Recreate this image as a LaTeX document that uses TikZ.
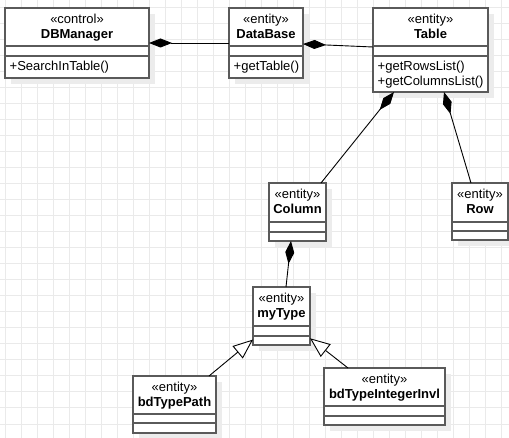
\documentclass[tikz,border=0pt]{standalone}
\usepackage{fontspec}
\setmainfont{Liberation Sans}
\usetikzlibrary{arrows.meta,shadows}
\definecolor{gridc}{RGB}{234,234,234}
\definecolor{shadc}{RGB}{236,236,236}
\definecolor{boxc}{RGB}{90,90,90}
\begin{document}
\begin{tikzpicture}[x=1pt,y=-1pt,
 gridline/.style={draw=gridc, line width=1pt},
 umlbox/.style={draw=boxc, line width=2pt, fill=white, inner sep=0pt, outer sep=0pt, anchor=north west,
   drop shadow={shadow xshift=6pt, shadow yshift=-6pt, fill=shadc, draw=none, opacity=1}},
 sepline/.style={draw=boxc, line width=2pt},
 stereo/.style={anchor=base, inner sep=0pt, font=\fontsize{13}{15}\selectfont},
 cname/.style={anchor=base, inner sep=0pt, font=\fontsize{13}{15}\selectfont\bfseries},
 meth/.style={anchor=base west, inner sep=0pt, font=\fontsize{13}{15}\selectfont},
 comp/.style={draw=black, line width=0.9pt, {Diamond[length=23pt,width=9pt]}-},
 gen/.style={draw=black, line width=0.9pt, -{Triangle[open,length=20pt,width=16pt,fill=white]}}]
\useasboundingbox (0,0) rectangle (509,438);
\fill[white] (0,0) rectangle (509,438);
\foreach \x in {5,21,...,501} \draw[gridline] (\x,0) -- (\x,438);
\foreach \y in {8,24,...,436} \draw[gridline] (0,\y) -- (509,\y);

% boxes
\node[umlbox, minimum width=144pt, minimum height=70pt] (dbm) at (5,8) {};
\node[umlbox, minimum width=74pt, minimum height=70pt] (db) at (229,8) {};
\node[umlbox, minimum width=115pt, minimum height=84pt] (tbl) at (373,8) {};
\node[umlbox, minimum width=57pt, minimum height=58pt] (col) at (269,183) {};
\node[umlbox, minimum width=56pt, minimum height=57pt] (row) at (452,183) {};
\node[umlbox, minimum width=57pt, minimum height=58pt] (myt) at (253,287) {};
\node[umlbox, minimum width=83pt, minimum height=57pt] (btp) at (133,376) {};
\node[umlbox, minimum width=121pt, minimum height=57pt] (bti) at (324,368) {};

% compartments
\foreach \n/\a/\b in {dbm/38/48, db/38/48, tbl/38/48, col/39/49, row/39/48, myt/39/49, btp/38/47, bti/38/48} {
  \draw[sepline] ([yshift=-\a pt]\n.north west) -- ([yshift=-\a pt]\n.north east);
  \draw[sepline] ([yshift=-\b pt]\n.north west) -- ([yshift=-\b pt]\n.north east);
}

% texts
\node[stereo] (dbm-s) at ([yshift=-15.5pt]dbm.north) {«control»};
\node[cname] (dbm-n) at ([yshift=-30.5pt]dbm.north) {DBManager};
\node[meth] (dbm-m) at ([xshift=4.5pt,yshift=-63pt]dbm.north west) {+SearchInTable()};

\node[stereo] (db-s) at ([yshift=-15.5pt]db.north) {«entity»};
\node[cname] (db-n) at ([yshift=-30.5pt]db.north) {DataBase};
\node[meth] (db-m) at ([xshift=4.5pt,yshift=-63pt]db.north west) {+getTable()};

\node[stereo] (tbl-s) at ([yshift=-15.5pt]tbl.north) {«entity»};
\node[cname] (tbl-n) at ([yshift=-30.5pt]tbl.north) {Table};
\node[meth] (tbl-m1) at ([xshift=4.5pt,yshift=-63pt]tbl.north west) {+getRowsList()};
\node[meth] (tbl-m2) at ([xshift=4.5pt,yshift=-78pt]tbl.north west) {+getColumnsList()};

\node[stereo] (col-s) at ([yshift=-15.5pt]col.north) {«entity»};
\node[cname] (col-n) at ([yshift=-30.5pt]col.north) {Column};

\node[stereo] (row-s) at ([yshift=-15.5pt]row.north) {«entity»};
\node[cname] (row-n) at ([yshift=-30.5pt]row.north) {Row};

\node[stereo] (myt-s) at ([yshift=-15.5pt]myt.north) {«entity»};
\node[cname] (myt-n) at ([yshift=-30.5pt]myt.north) {myType};

\node[stereo] (btp-s) at ([yshift=-15.5pt]btp.north) {«entity»};
\node[cname] (btp-n) at ([yshift=-30.5pt]btp.north) {bdTypePath};

\node[stereo] (bti-s) at ([yshift=-15.5pt]bti.north) {«entity»};
\node[cname] (bti-n) at ([yshift=-30.5pt]bti.north) {bdTypeIntegerInvl};

% connectors
\draw[comp] (dbm.east) -- (db.west);
\draw[comp] ([yshift=-1pt]db.east) -- ([yshift=3pt]tbl.west);
\draw[comp] ([xshift=-36.5pt]tbl.south) -- ([xshift=23.5pt]col.north);
\draw[comp] ([xshift=13.5pt]tbl.south) -- ([xshift=-9pt]row.north);
\draw[comp] ([xshift=-6.5pt]col.south) -- ([xshift=4.5pt]myt.north);
\draw[gen] ([xshift=34.5pt]btp.north) -- (myt);
\draw[gen] ([xshift=-36.5pt]bti.north) -- (myt);
\end{tikzpicture}
\end{document}
